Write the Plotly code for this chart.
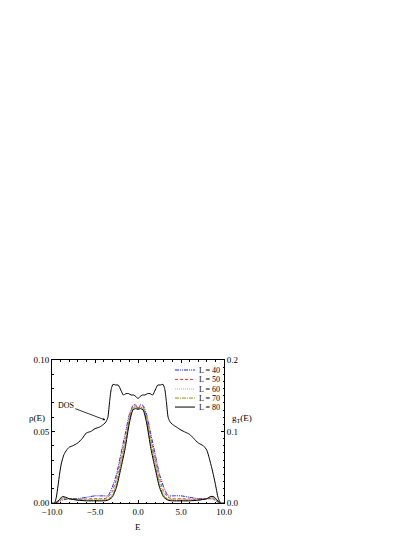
import plotly.graph_objects as go

# ── data ─────────────────────────────────────────────────────────────────────
E_DOS = [-10.0, -9.7, -9.5, -9.3, -9.1, -8.9, -8.6, -8.3, -8.0, -7.6, -7.0, -6.5,
         -6.0, -5.5, -5.0, -4.5, -4.0, -3.7, -3.5, -3.3, -3.1, -2.9, -2.6, -2.3,
         -2.0, -1.7, -1.4, -1.1, -0.8, -0.5, -0.25, 0.0,
         0.25, 0.5, 0.8, 1.1, 1.4, 1.7, 2.0, 2.3, 2.6, 2.9, 3.1, 3.3, 3.5, 3.7,
         4.0, 4.5, 5.0, 5.5, 6.0, 6.5, 7.0, 7.6, 8.0, 8.3, 8.6, 8.9, 9.1, 9.3,
         9.5, 9.7, 10.0]
DOS = [0.0, 0.0, 0.004, 0.012, 0.021, 0.028, 0.034, 0.037, 0.039, 0.040, 0.042, 0.045,
       0.049, 0.050, 0.052, 0.053, 0.055, 0.057, 0.060, 0.071, 0.080, 0.083, 0.0825, 0.0825,
       0.079, 0.0755, 0.0765, 0.0765, 0.0755, 0.0755, 0.0745, 0.073,
       0.0745, 0.0755, 0.0755, 0.0765, 0.0765, 0.0755, 0.079, 0.0825, 0.0825, 0.083, 0.080,
       0.071, 0.060, 0.057, 0.055, 0.053, 0.051, 0.0495, 0.048, 0.045, 0.042, 0.040,
       0.037, 0.031, 0.024, 0.016, 0.010, 0.004, 0.001, 0.0, 0.0]

E_L = [-9.6, -9.2, -8.8, -8.4, -8.0, -7.0, -6.0, -5.0, -4.0, -3.5, -3.0, -2.5, -2.0,
       -1.5, -1.0, -0.6, -0.3, 0.0, 0.3, 0.6, 1.0, 1.5, 2.0, 2.5, 3.0, 3.5, 4.0,
       5.0, 6.0, 7.0, 8.0, 8.4, 8.8, 9.2, 9.6]

# g_T(E), right axis
G_L40 = [0.0, 0.002, 0.004, 0.005, 0.006, 0.006, 0.008, 0.010, 0.010, 0.010, 0.022, 0.040,
         0.068, 0.096, 0.124, 0.136, 0.138, 0.132, 0.138, 0.136, 0.124, 0.096, 0.068, 0.040,
         0.022, 0.010, 0.010, 0.010, 0.008, 0.006, 0.006, 0.006, 0.005, 0.002, 0.0]
G_L50 = [0.0, 0.002, 0.006, 0.006, 0.006, 0.005, 0.0056, 0.006, 0.006, 0.008, 0.016, 0.034,
         0.062, 0.090, 0.120, 0.134, 0.136, 0.133, 0.136, 0.134, 0.120, 0.090, 0.062, 0.034,
         0.016, 0.008, 0.006, 0.006, 0.0056, 0.005, 0.006, 0.007, 0.006, 0.002, 0.0]
G_L60 = [0.0, 0.003, 0.006, 0.007, 0.006, 0.0044, 0.0044, 0.0044, 0.0044, 0.006, 0.012, 0.030,
         0.058, 0.086, 0.118, 0.132, 0.134, 0.132, 0.134, 0.132, 0.118, 0.086, 0.058, 0.030,
         0.012, 0.006, 0.0044, 0.0044, 0.0044, 0.0044, 0.006, 0.008, 0.007, 0.003, 0.0]
G_L70 = [0.0, 0.003, 0.007, 0.007, 0.006, 0.004, 0.004, 0.004, 0.004, 0.005, 0.010, 0.026,
         0.054, 0.082, 0.116, 0.132, 0.134, 0.132, 0.134, 0.132, 0.116, 0.082, 0.054, 0.026,
         0.010, 0.005, 0.004, 0.004, 0.004, 0.004, 0.006, 0.008, 0.008, 0.003, 0.0]
G_L80 = [0.0, 0.004, 0.009, 0.008, 0.006, 0.004, 0.003, 0.003, 0.003, 0.004, 0.008, 0.022,
         0.048, 0.076, 0.112, 0.130, 0.132, 0.131, 0.132, 0.130, 0.112, 0.076, 0.048, 0.022,
         0.008, 0.004, 0.003, 0.003, 0.003, 0.004, 0.006, 0.009, 0.009, 0.004, 0.0]

SERIES = [
    ("L = 40", G_L40, "#1a1aff", "4px,1px,1px,1px,1px,1px"),
    ("L = 50", G_L50, "#ff2a2a", "3px,2px"),
    ("L = 60", G_L60, "#7fcf7f", "1px,1px"),
    ("L = 70", G_L70, "#8f8f00", "4px,1px,1px,1px"),
    ("L = 80", G_L80, "#000000", "solid"),
]

FONT = "Liberation Serif, Times New Roman, serif"

fig = go.Figure()

fig.add_trace(go.Scatter(
    x=E_DOS, y=DOS, mode="lines", line=dict(color="black", width=1, shape="spline",
                                             smoothing=0.6),
    showlegend=False, yaxis="y",
))

for name, g, color, dash in SERIES:
    fig.add_trace(go.Scatter(
        x=E_L, y=g, mode="lines", name=name, yaxis="y2",
        line=dict(color=color, width=1, dash=dash, shape="spline", smoothing=0.6),
        showlegend=False,
    ))

# hand-made legend (plotly's rows are too tall for this layout)
leg_y = [0.930, 0.864, 0.797, 0.734, 0.671]
for (name, _, color, dash), yy in zip(SERIES, leg_y):
    fig.add_shape(type="line", xref="paper", yref="paper",
                  x0=0.715, x1=0.831, y0=yy, y1=yy,
                  line=dict(color=color, width=1, dash=dash))
    fig.add_annotation(xref="paper", yref="paper", x=0.843, y=yy, text=name,
                       showarrow=False, xanchor="left", yanchor="middle",
                       font=dict(size=8, family=FONT, color="black"))

# DOS pointer
fig.add_annotation(x=-3.8, y=0.058, ax=-8.4, ay=0.0685, axref="x", ayref="y",
                   xref="x", yref="y", text="DOS", showarrow=True,
                   arrowhead=2, arrowsize=0.6, arrowwidth=0.8, arrowcolor="black",
                   font=dict(size=8, family=FONT, color="black"))

# axis titles (horizontal, as in the reference)
fig.add_annotation(xref="paper", yref="paper", x=-0.087, y=0.594, text="ρ(E)",
                   showarrow=False, xanchor="center", yanchor="middle",
                   font=dict(size=9, family=FONT, color="black"))
fig.add_annotation(xref="paper", yref="paper", x=1.105, y=0.594, text="g<sub>T</sub>(E)",
                   showarrow=False, xanchor="center", yanchor="middle",
                   font=dict(size=9, family=FONT, color="black"))
fig.add_annotation(xref="paper", yref="paper", x=0.5, y=-0.168, text="E",
                   showarrow=False, yanchor="middle",
                   font=dict(size=9, family=FONT, color="black"))

axis_common = dict(
    showline=True, linecolor="black", linewidth=1,
    ticks="inside", ticklen=3, tickwidth=1, tickcolor="black",
    showgrid=False, zeroline=False, automargin=False,
    tickfont=dict(size=9, family=FONT, color="black"),
)

# page has an 8px body margin, so the plot box is shifted back by that much
fig.update_layout(
    width=415, height=537,
    margin=dict(l=44, r=199, t=352, b=42),
    paper_bgcolor="white", plot_bgcolor="white",
    font=dict(family=FONT, size=8, color="black"),
    xaxis=dict(range=[-10, 10], tickvals=[-10, -5, 0, 5, 10], tickformat=".1f",
               mirror="ticks",
               minor=dict(dtick=1, ticks="inside", ticklen=1.5, tickcolor="black"),
               **axis_common),
    yaxis=dict(range=[0, 0.1], tickvals=[0, 0.05, 0.1], tickformat=".2f",
               minor=dict(dtick=0.01, ticks="inside", ticklen=1.5, tickcolor="black"),
               **axis_common),
    yaxis2=dict(range=[0, 0.2], tickvals=[0, 0.1, 0.2], tickformat=".1f",
                overlaying="y", side="right",
                minor=dict(dtick=0.01, ticks="inside", ticklen=1.5, tickcolor="black"),
                **axis_common),
)

fig.write_html("out.html")
